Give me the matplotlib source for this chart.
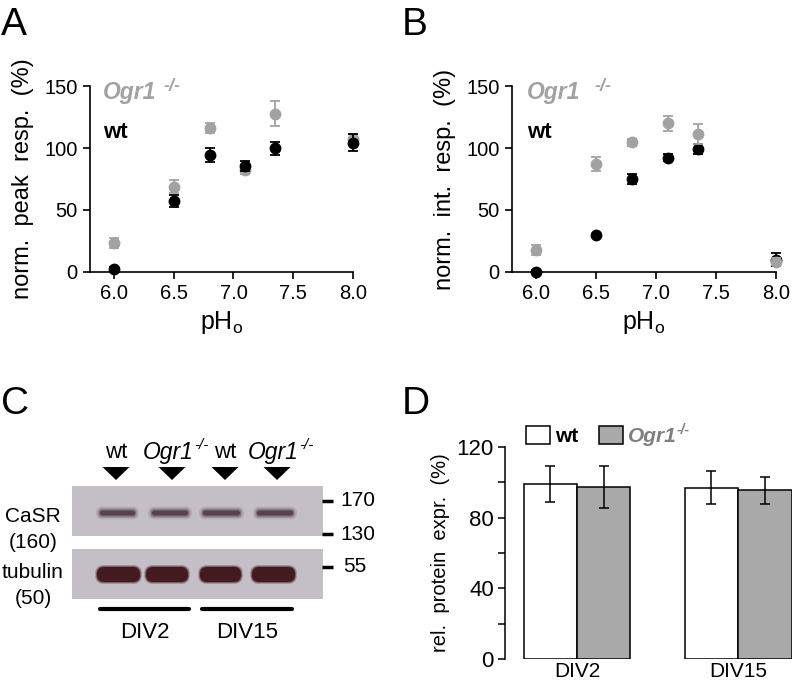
import matplotlib
matplotlib.use("Agg")
import matplotlib.pyplot as plt
from matplotlib.patches import Rectangle, FancyBboxPatch, Polygon

plt.rcParams['font.family'] = ['Liberation Sans', 'DejaVu Sans']
plt.rcParams['mathtext.fontset'] = 'custom'
plt.rcParams['mathtext.rm'] = 'Liberation Sans'
plt.rcParams['mathtext.it'] = 'Liberation Sans:italic'

# --- data ---
ph = [6.0, 6.5, 6.8, 7.1, 7.35, 8.0]
peak_wt = [2.7, 57.3, 94.4, 85.8, 99.7, 104.3]
peak_wt_err = [1, 5, 6, 4, 5, 7]
peak_ko = [23.1, 68.8, 115.9, 82.3, 127.7, 107]
peak_ko_err = [4, 5, 4, 3, 10, 4]
int_wt = [0.3, 29.6, 75, 92.2, 98.9, 10]
int_wt_err = [1, 1, 4, 3, 4, 5]
int_ko = [17.7, 87.1, 104.6, 119.9, 111, 8.3]
int_ko_err = [4, 6, 3, 6, 8, 3]

div = ["DIV2", "DIV15"]
expr_wt = [99, 97]
expr_wt_err = [10, 9.5]
expr_ko = [97.5, 95.5]
expr_ko_err = [12, 7.5]

lanes = ["wt", "Ogr1", "wt", "Ogr1"]
markers_kda = ["170", "130", "55"]

W, H = 793, 689
GRAY = '#a2a2a2'


def fpos(l, t, r, b):
    return [l / W, 1 - b / H, (r - l) / W, (b - t) / H]


fig = plt.figure(figsize=(W / 100, H / 100), dpi=100)

# overlay in pixel coords for labels and blot
ov = fig.add_axes([0, 0, 1, 1])
ov.set_xlim(0, W)
ov.set_ylim(H, 0)
ov.axis('off')
ov.set_zorder(10)


def ko_label(x, y, size, color='black', bold=False, gap=0, sup=0.66):
    # "Ogr1" in italics with a -/- superscript stuck to it
    t = ov.text(x, y, 'Ogr1', fontsize=size, style='italic', color=color,
                fontweight='bold' if bold else 'normal', ha='left', va='center')
    ov.annotate('-/-', xy=(1, 0.8), xycoords=t, xytext=(gap, 0),
                textcoords='offset points', fontsize=size * sup,
                style='italic', color=color,
                fontweight='bold' if bold else 'normal', ha='left', va='center')
    return t


def scatter_panel(ax, wt, wt_err, ko, ko_err, ylabel, ko_top=False):
    for y, e, c, z in [(ko, ko_err, GRAY, 4 if ko_top else 2),
                       (wt, wt_err, 'black', 3)]:
        eb = ax.errorbar(ph, y, yerr=e, fmt='o', color=c, ms=7.5, capsize=3.5,
                         elinewidth=1.3, capthick=1.3, zorder=z)
        for art in eb.get_children():
            art.set_clip_on(False)
    ax.set_xlim(5.8, 8.0)
    ax.set_ylim(0, 150)
    ax.set_xticks([6.0, 6.5, 7.0, 7.5, 8.0])
    ax.set_xticklabels(['6.0', '6.5', '7.0', '7.5', '8.0'])
    ax.set_yticks([0, 50, 100, 150])
    for s in ['top', 'right']:
        ax.spines[s].set_visible(False)
    for s in ['left', 'bottom']:
        ax.spines[s].set_linewidth(1.2)
    ax.tick_params(direction='out', length=5, width=1.2, labelsize=14.5, pad=4)
    ax.set_xlabel(r'pH$_\mathregular{o}$', fontsize=18, labelpad=4)
    ax.set_ylabel(ylabel, fontsize=17, labelpad=7)


axA = fig.add_axes(fpos(90, 86, 353, 272))
scatter_panel(axA, peak_wt, peak_wt_err, peak_ko, peak_ko_err,
              'norm.  peak  resp.  (%)')
axB = fig.add_axes(fpos(512, 86, 776, 272))
scatter_panel(axB, int_wt, int_wt_err, int_ko, int_ko_err,
              'norm.  int.  resp.  (%)', ko_top=True)

# in-plot labels for A and B
for x0, gap in [(103, 5), (527, 10)]:
    ko_label(x0, 93, 16.5, color=GRAY, bold=True, gap=gap, sup=0.78)
    ov.text(x0, 133, 'wt', color='black', fontsize=16, fontweight='bold',
            va='center', ha='left')

# panel letters
for lbl, x, y in [('A', 1, 25), ('B', 402, 25), ('C', 1, 404), ('D', 402, 404)]:
    ov.text(x, y, lbl, fontsize=28, va='center', ha='left')

# --- panel C: western blot ---
blot_bg = '#c4bfc7'
ov.add_patch(Rectangle((72, 486), 251, 50, color=blot_bg, lw=0))
ov.add_patch(Rectangle((72, 549), 251, 50, color=blot_bg, lw=0))
casr_x = [(100, 135), (152, 188), (203, 240), (257, 293)]
tub_x = [(97, 140), (146, 188), (200, 241), (252, 295)]
for (a, b) in casr_x:
    for pad, al in [(4, 0.12), (2.5, 0.2), (1.2, 0.35), (0, 0.7)]:
        ov.add_patch(FancyBboxPatch((a - pad, 510.5 - pad), b - a + 2 * pad,
                                    5 + 2 * pad,
                                    boxstyle='round,pad=0,rounding_size=%.1f' % (2.5 + pad),
                                    fc='#45303c', ec='none', alpha=al))
for (a, b) in tub_x:
    for pad, al in [(2, 0.25), (1, 0.45), (0, 1.0)]:
        ov.add_patch(FancyBboxPatch((a - pad, 567 - pad), b - a + 2 * pad,
                                    15 + 2 * pad,
                                    boxstyle='round,pad=0,rounding_size=%.1f' % (7 + pad),
                                    fc='#431a20', ec='none', alpha=al))

lane_cx = [116, 172, 225, 277]
for cx, name in zip(lane_cx, lanes):
    ov.add_patch(Polygon([(cx - 13.5, 467), (cx + 13.5, 467), (cx, 480)],
                         closed=True, fc='black', ec='none'))
    if name == 'wt':
        ov.text(cx, 452, 'wt', fontsize=16, ha='center', va='center')
    else:
        ko_label(cx - 29, 452, 16.5)

for y, m in zip([501, 534, 567], markers_kda):
    ov.plot([322, 333], [y, y], color='black', lw=2.5, solid_capstyle='butt')
    ov.text(340 if m != '55' else 343, y, m, fontsize=15, ha='left', va='center')

for y, t in [(517, 'CaSR'), (543, '(160)'), (573, 'tubulin'), (599, '(50)')]:
    ov.text(33, y, t, fontsize=15, ha='center', va='center')

for (a, b), t in zip([(100, 189), (202, 292)], div):
    ov.plot([a, b], [609, 609], color='black', lw=3, solid_capstyle='round')
    ov.text((a + b) / 2, 633, t, fontsize=16, ha='center', va='center')

# --- panel D: bars ---
axD = fig.add_axes(fpos(505, 447, 792, 659))
xs = [0, 1]
bw = 0.332
axD.bar([x - bw / 2 for x in xs], expr_wt, bw, color='white', edgecolor='black',
        lw=1.1, yerr=expr_wt_err, error_kw=dict(ecolor='black', capsize=3.5,
                                                 elinewidth=1.1, capthick=1.1))
axD.bar([x + bw / 2 for x in xs], expr_ko, bw, color='#a9a9a9', edgecolor='black',
        lw=1.1, yerr=expr_ko_err, error_kw=dict(ecolor='black', capsize=3.5,
                                                 elinewidth=1.1, capthick=1.1))
axD.set_xlim(-0.447, 1.335)
axD.set_ylim(0, 120)
axD.set_yticks([0, 40, 80, 120])
axD.set_yticks([20, 60, 100], minor=True)
axD.set_xticks(xs)
axD.set_xticklabels(div)
for s in ['top', 'right', 'bottom']:
    axD.spines[s].set_visible(False)
axD.spines['left'].set_linewidth(1.1)
axD.tick_params(axis='y', which='both', direction='out', length=5, width=1.1,
                labelsize=16, pad=3)
axD.tick_params(axis='x', length=0, labelsize=15, pad=2)
axD.set_ylabel('rel.  protein  expr.  (%)', fontsize=14.5, labelpad=5)

# legend for D
ov.add_patch(Rectangle((526, 426), 24, 18, fc='white', ec='black', lw=1.1))
ov.text(555, 436, 'wt', fontsize=15, fontweight='bold', ha='left', va='center')
ov.add_patch(Rectangle((599, 426), 24, 18, fc='#a9a9a9', ec='black', lw=1.1))
ko_label(628, 436, 15, color='#7f7f7f', bold=True)

fig.savefig('out.png', dpi=100)
